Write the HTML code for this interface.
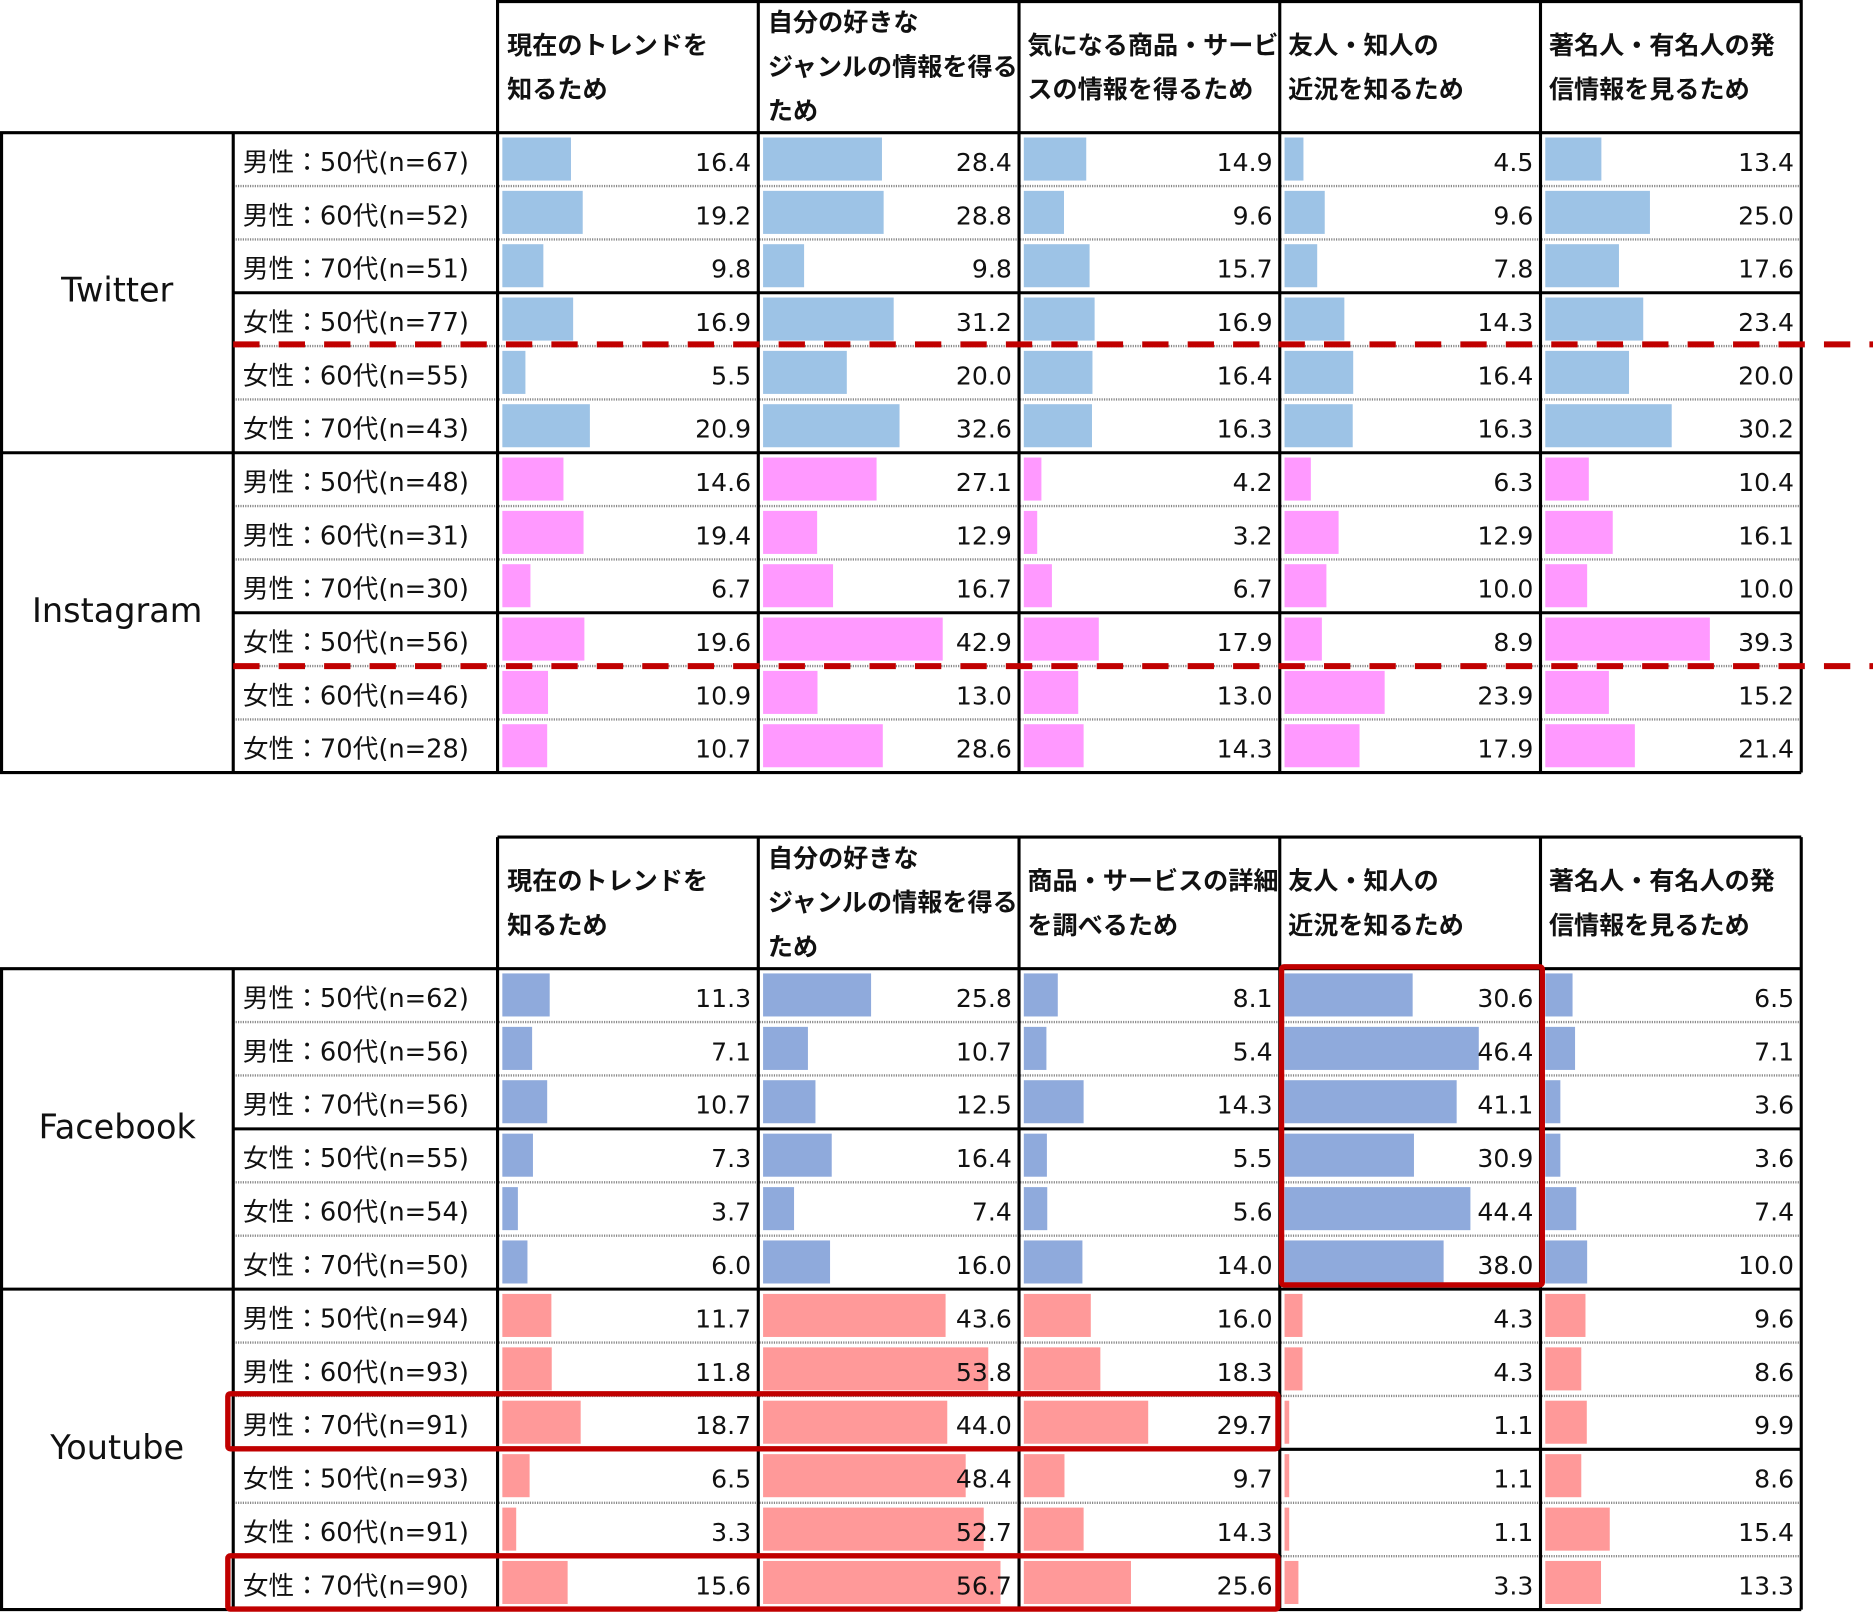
<!DOCTYPE html>
<html><head><meta charset="utf-8"><style>
html,body{margin:0;padding:0;background:#fff;}
svg{display:block;}
text{font-family:"DejaVu Sans","Noto Sans CJK JP",sans-serif;fill:#111;}
.n{font-size:21px;text-anchor:end;}
.l{font-size:21.5px;}
.h{font-size:21px;font-weight:bold;font-family:"Liberation Sans","Noto Sans CJK JP",sans-serif;}
.p{font-size:28px;text-anchor:middle;}
.thk{stroke:#000;stroke-width:2.6;}
.dot{stroke:#888;stroke-width:2;stroke-dasharray:1 1;}
.b1{fill:#9dc3e6}.b2{fill:#ff99ff}.b3{fill:#8faadc}.b4{fill:#ff9999}
</style></head><body>
<svg width="1873" height="1612" viewBox="0 0 1566 1348" preserveAspectRatio="none" xmlns="http://www.w3.org/2000/svg">
<rect width="1566" height="1348" fill="#fff"/>

<g class="h">
<text x="424" y="45">現在のトレンドを</text><text x="424" y="82">知るため</text>
<text x="642" y="26">自分の好きな</text><text x="642" y="63">ジャンルの情報を得る</text><text x="642" y="100">ため</text>
<text x="859" y="45">気になる商品・サービ</text><text x="859" y="82">スの情報を得るため</text>
<text x="1077" y="45">友人・知人の</text><text x="1077" y="82">近況を知るため</text>
<text x="1295" y="45">著名人・有名人の発</text><text x="1295" y="82">信情報を見るため</text>
</g>
<text class="p" x="98" y="252">Twitter</text>
<text class="p" x="98" y="520">Instagram</text>

<g transform="translate(0,111)">
<rect class="b1" x="420" y="4" width="57.4" height="36"/><rect class="b1" x="638" y="4" width="99.4" height="36"/><rect class="b1" x="856" y="4" width="52.2" height="36"/><rect class="b1" x="1074" y="4" width="15.8" height="36"/><rect class="b1" x="1292" y="4" width="46.9" height="36"/>
<text class="l" x="203" y="32">男性：50代(n=67)</text><text class="n" x="628" y="32">16.4</text><text class="n" x="846" y="32">28.4</text><text class="n" x="1064" y="32">14.9</text><text class="n" x="1282" y="32">4.5</text><text class="n" x="1500" y="32">13.4</text></g>
<g transform="translate(0,155.6)">
<rect class="b1" x="420" y="4" width="67.2" height="36"/><rect class="b1" x="638" y="4" width="100.8" height="36"/><rect class="b1" x="856" y="4" width="33.6" height="36"/><rect class="b1" x="1074" y="4" width="33.6" height="36"/><rect class="b1" x="1292" y="4" width="87.5" height="36"/>
<text class="l" x="203" y="32">男性：60代(n=52)</text><text class="n" x="628" y="32">19.2</text><text class="n" x="846" y="32">28.8</text><text class="n" x="1064" y="32">9.6</text><text class="n" x="1282" y="32">9.6</text><text class="n" x="1500" y="32">25.0</text></g>
<g transform="translate(0,200.2)">
<rect class="b1" x="420" y="4" width="34.3" height="36"/><rect class="b1" x="638" y="4" width="34.3" height="36"/><rect class="b1" x="856" y="4" width="55" height="36"/><rect class="b1" x="1074" y="4" width="27.3" height="36"/><rect class="b1" x="1292" y="4" width="61.6" height="36"/>
<text class="l" x="203" y="32">男性：70代(n=51)</text><text class="n" x="628" y="32">9.8</text><text class="n" x="846" y="32">9.8</text><text class="n" x="1064" y="32">15.7</text><text class="n" x="1282" y="32">7.8</text><text class="n" x="1500" y="32">17.6</text></g>
<g transform="translate(0,244.8)">
<rect class="b1" x="420" y="4" width="59.2" height="36"/><rect class="b1" x="638" y="4" width="109.2" height="36"/><rect class="b1" x="856" y="4" width="59.2" height="36"/><rect class="b1" x="1074" y="4" width="50" height="36"/><rect class="b1" x="1292" y="4" width="81.9" height="36"/>
<text class="l" x="203" y="32">女性：50代(n=77)</text><text class="n" x="628" y="32">16.9</text><text class="n" x="846" y="32">31.2</text><text class="n" x="1064" y="32">16.9</text><text class="n" x="1282" y="32">14.3</text><text class="n" x="1500" y="32">23.4</text></g>
<g transform="translate(0,289.4)">
<rect class="b1" x="420" y="4" width="19.3" height="36"/><rect class="b1" x="638" y="4" width="70" height="36"/><rect class="b1" x="856" y="4" width="57.4" height="36"/><rect class="b1" x="1074" y="4" width="57.4" height="36"/><rect class="b1" x="1292" y="4" width="70" height="36"/>
<text class="l" x="203" y="32">女性：60代(n=55)</text><text class="n" x="628" y="32">5.5</text><text class="n" x="846" y="32">20.0</text><text class="n" x="1064" y="32">16.4</text><text class="n" x="1282" y="32">16.4</text><text class="n" x="1500" y="32">20.0</text></g>
<g transform="translate(0,334)">
<rect class="b1" x="420" y="4" width="73.2" height="36"/><rect class="b1" x="638" y="4" width="114.1" height="36"/><rect class="b1" x="856" y="4" width="57" height="36"/><rect class="b1" x="1074" y="4" width="57" height="36"/><rect class="b1" x="1292" y="4" width="105.7" height="36"/>
<text class="l" x="203" y="32">女性：70代(n=43)</text><text class="n" x="628" y="32">20.9</text><text class="n" x="846" y="32">32.6</text><text class="n" x="1064" y="32">16.3</text><text class="n" x="1282" y="32">16.3</text><text class="n" x="1500" y="32">30.2</text></g>
<g transform="translate(0,378.6)">
<rect class="b2" x="420" y="4" width="51.1" height="36"/><rect class="b2" x="638" y="4" width="94.9" height="36"/><rect class="b2" x="856" y="4" width="14.7" height="36"/><rect class="b2" x="1074" y="4" width="22" height="36"/><rect class="b2" x="1292" y="4" width="36.4" height="36"/>
<text class="l" x="203" y="32">男性：50代(n=48)</text><text class="n" x="628" y="32">14.6</text><text class="n" x="846" y="32">27.1</text><text class="n" x="1064" y="32">4.2</text><text class="n" x="1282" y="32">6.3</text><text class="n" x="1500" y="32">10.4</text></g>
<g transform="translate(0,423.2)">
<rect class="b2" x="420" y="4" width="67.9" height="36"/><rect class="b2" x="638" y="4" width="45.2" height="36"/><rect class="b2" x="856" y="4" width="11.2" height="36"/><rect class="b2" x="1074" y="4" width="45.2" height="36"/><rect class="b2" x="1292" y="4" width="56.4" height="36"/>
<text class="l" x="203" y="32">男性：60代(n=31)</text><text class="n" x="628" y="32">19.4</text><text class="n" x="846" y="32">12.9</text><text class="n" x="1064" y="32">3.2</text><text class="n" x="1282" y="32">12.9</text><text class="n" x="1500" y="32">16.1</text></g>
<g transform="translate(0,467.8)">
<rect class="b2" x="420" y="4" width="23.5" height="36"/><rect class="b2" x="638" y="4" width="58.5" height="36"/><rect class="b2" x="856" y="4" width="23.5" height="36"/><rect class="b2" x="1074" y="4" width="35" height="36"/><rect class="b2" x="1292" y="4" width="35" height="36"/>
<text class="l" x="203" y="32">男性：70代(n=30)</text><text class="n" x="628" y="32">6.7</text><text class="n" x="846" y="32">16.7</text><text class="n" x="1064" y="32">6.7</text><text class="n" x="1282" y="32">10.0</text><text class="n" x="1500" y="32">10.0</text></g>
<g transform="translate(0,512.4)">
<rect class="b2" x="420" y="4" width="68.6" height="36"/><rect class="b2" x="638" y="4" width="150.2" height="36"/><rect class="b2" x="856" y="4" width="62.7" height="36"/><rect class="b2" x="1074" y="4" width="31.2" height="36"/><rect class="b2" x="1292" y="4" width="137.6" height="36"/>
<text class="l" x="203" y="32">女性：50代(n=56)</text><text class="n" x="628" y="32">19.6</text><text class="n" x="846" y="32">42.9</text><text class="n" x="1064" y="32">17.9</text><text class="n" x="1282" y="32">8.9</text><text class="n" x="1500" y="32">39.3</text></g>
<g transform="translate(0,557)">
<rect class="b2" x="420" y="4" width="38.2" height="36"/><rect class="b2" x="638" y="4" width="45.5" height="36"/><rect class="b2" x="856" y="4" width="45.5" height="36"/><rect class="b2" x="1074" y="4" width="83.7" height="36"/><rect class="b2" x="1292" y="4" width="53.2" height="36"/>
<text class="l" x="203" y="32">女性：60代(n=46)</text><text class="n" x="628" y="32">10.9</text><text class="n" x="846" y="32">13.0</text><text class="n" x="1064" y="32">13.0</text><text class="n" x="1282" y="32">23.9</text><text class="n" x="1500" y="32">15.2</text></g>
<g transform="translate(0,601.6)">
<rect class="b2" x="420" y="4" width="37.5" height="36"/><rect class="b2" x="638" y="4" width="100.1" height="36"/><rect class="b2" x="856" y="4" width="50" height="36"/><rect class="b2" x="1074" y="4" width="62.7" height="36"/><rect class="b2" x="1292" y="4" width="74.9" height="36"/>
<text class="l" x="203" y="32">女性：70代(n=28)</text><text class="n" x="628" y="32">10.7</text><text class="n" x="846" y="32">28.6</text><text class="n" x="1064" y="32">14.3</text><text class="n" x="1282" y="32">17.9</text><text class="n" x="1500" y="32">21.4</text></g>

<g class="dot">
<line x1="195" y1="155.6" x2="1506" y2="155.6"/><line x1="195" y1="200.2" x2="1506" y2="200.2"/>
<line x1="195" y1="289.4" x2="1506" y2="289.4"/><line x1="195" y1="334" x2="1506" y2="334"/>
<line x1="195" y1="423.2" x2="1506" y2="423.2"/><line x1="195" y1="467.8" x2="1506" y2="467.8"/>
<line x1="195" y1="557" x2="1506" y2="557"/><line x1="195" y1="601.6" x2="1506" y2="601.6"/>
</g>
<g class="thk">
<line x1="416" y1="1.3" x2="1506" y2="1.3"/>
<line x1="0" y1="111" x2="1506" y2="111"/>
<line x1="195" y1="244.8" x2="1506" y2="244.8"/>
<line x1="0" y1="378.6" x2="1506" y2="378.6"/>
<line x1="195" y1="512.4" x2="1506" y2="512.4"/>
<line x1="0" y1="646" x2="1506" y2="646"/>
<line x1="1.3" y1="111" x2="1.3" y2="646"/>
<line x1="195" y1="111" x2="195" y2="646"/>
<line x1="416" y1="0" x2="416" y2="646"/><line x1="634" y1="0" x2="634" y2="646"/><line x1="852" y1="0" x2="852" y2="646"/><line x1="1070" y1="0" x2="1070" y2="646"/><line x1="1288" y1="0" x2="1288" y2="646"/><line x1="1506" y1="0" x2="1506" y2="646"/>
</g>
<g stroke="#c00000" stroke-width="5" stroke-dasharray="22 16">
<line x1="195" y1="288" x2="1566" y2="288"/>
<line x1="195" y1="557" x2="1566" y2="557"/>
</g>

<g class="h">
<text x="424" y="744">現在のトレンドを</text><text x="424" y="781">知るため</text>
<text x="642" y="725">自分の好きな</text><text x="642" y="762">ジャンルの情報を得る</text><text x="642" y="799">ため</text>
<text x="859" y="744">商品・サービスの詳細</text><text x="859" y="781">を調べるため</text>
<text x="1077" y="744">友人・知人の</text><text x="1077" y="781">近況を知るため</text>
<text x="1295" y="744">著名人・有名人の発</text><text x="1295" y="781">信情報を見るため</text>
</g>
<text class="p" x="98" y="952">Facebook</text>
<text class="p" x="98" y="1220">Youtube</text>

<g transform="translate(0,810)">
<rect class="b3" x="420" y="4" width="39.6" height="36"/><rect class="b3" x="638" y="4" width="90.3" height="36"/><rect class="b3" x="856" y="4" width="28.4" height="36"/><rect class="b3" x="1074" y="4" width="107.1" height="36"/><rect class="b3" x="1292" y="4" width="22.8" height="36"/>
<text class="l" x="203" y="32">男性：50代(n=62)</text><text class="n" x="628" y="32">11.3</text><text class="n" x="846" y="32">25.8</text><text class="n" x="1064" y="32">8.1</text><text class="n" x="1282" y="32">30.6</text><text class="n" x="1500" y="32">6.5</text></g>
<g transform="translate(0,854.7)">
<rect class="b3" x="420" y="4" width="24.9" height="36"/><rect class="b3" x="638" y="4" width="37.5" height="36"/><rect class="b3" x="856" y="4" width="18.9" height="36"/><rect class="b3" x="1074" y="4" width="162.4" height="36"/><rect class="b3" x="1292" y="4" width="24.9" height="36"/>
<text class="l" x="203" y="32">男性：60代(n=56)</text><text class="n" x="628" y="32">7.1</text><text class="n" x="846" y="32">10.7</text><text class="n" x="1064" y="32">5.4</text><text class="n" x="1282" y="32">46.4</text><text class="n" x="1500" y="32">7.1</text></g>
<g transform="translate(0,899.3)">
<rect class="b3" x="420" y="4" width="37.5" height="36"/><rect class="b3" x="638" y="4" width="43.8" height="36"/><rect class="b3" x="856" y="4" width="50" height="36"/><rect class="b3" x="1074" y="4" width="143.9" height="36"/><rect class="b3" x="1292" y="4" width="12.6" height="36"/>
<text class="l" x="203" y="32">男性：70代(n=56)</text><text class="n" x="628" y="32">10.7</text><text class="n" x="846" y="32">12.5</text><text class="n" x="1064" y="32">14.3</text><text class="n" x="1282" y="32">41.1</text><text class="n" x="1500" y="32">3.6</text></g>
<g transform="translate(0,944)">
<rect class="b3" x="420" y="4" width="25.6" height="36"/><rect class="b3" x="638" y="4" width="57.4" height="36"/><rect class="b3" x="856" y="4" width="19.3" height="36"/><rect class="b3" x="1074" y="4" width="108.2" height="36"/><rect class="b3" x="1292" y="4" width="12.6" height="36"/>
<text class="l" x="203" y="32">女性：50代(n=55)</text><text class="n" x="628" y="32">7.3</text><text class="n" x="846" y="32">16.4</text><text class="n" x="1064" y="32">5.5</text><text class="n" x="1282" y="32">30.9</text><text class="n" x="1500" y="32">3.6</text></g>
<g transform="translate(0,988.7)">
<rect class="b3" x="420" y="4" width="13" height="36"/><rect class="b3" x="638" y="4" width="25.9" height="36"/><rect class="b3" x="856" y="4" width="19.6" height="36"/><rect class="b3" x="1074" y="4" width="155.4" height="36"/><rect class="b3" x="1292" y="4" width="25.9" height="36"/>
<text class="l" x="203" y="32">女性：60代(n=54)</text><text class="n" x="628" y="32">3.7</text><text class="n" x="846" y="32">7.4</text><text class="n" x="1064" y="32">5.6</text><text class="n" x="1282" y="32">44.4</text><text class="n" x="1500" y="32">7.4</text></g>
<g transform="translate(0,1033.3)">
<rect class="b3" x="420" y="4" width="21" height="36"/><rect class="b3" x="638" y="4" width="56" height="36"/><rect class="b3" x="856" y="4" width="49" height="36"/><rect class="b3" x="1074" y="4" width="133" height="36"/><rect class="b3" x="1292" y="4" width="35" height="36"/>
<text class="l" x="203" y="32">女性：70代(n=50)</text><text class="n" x="628" y="32">6.0</text><text class="n" x="846" y="32">16.0</text><text class="n" x="1064" y="32">14.0</text><text class="n" x="1282" y="32">38.0</text><text class="n" x="1500" y="32">10.0</text></g>
<g transform="translate(0,1078)">
<rect class="b4" x="420" y="4" width="41" height="36"/><rect class="b4" x="638" y="4" width="152.6" height="36"/><rect class="b4" x="856" y="4" width="56" height="36"/><rect class="b4" x="1074" y="4" width="15" height="36"/><rect class="b4" x="1292" y="4" width="33.6" height="36"/>
<text class="l" x="203" y="32">男性：50代(n=94)</text><text class="n" x="628" y="32">11.7</text><text class="n" x="846" y="32">43.6</text><text class="n" x="1064" y="32">16.0</text><text class="n" x="1282" y="32">4.3</text><text class="n" x="1500" y="32">9.6</text></g>
<g transform="translate(0,1122.7)">
<rect class="b4" x="420" y="4" width="41.3" height="36"/><rect class="b4" x="638" y="4" width="188.3" height="36"/><rect class="b4" x="856" y="4" width="64" height="36"/><rect class="b4" x="1074" y="4" width="15" height="36"/><rect class="b4" x="1292" y="4" width="30.1" height="36"/>
<text class="l" x="203" y="32">男性：60代(n=93)</text><text class="n" x="628" y="32">11.8</text><text class="n" x="846" y="32">53.8</text><text class="n" x="1064" y="32">18.3</text><text class="n" x="1282" y="32">4.3</text><text class="n" x="1500" y="32">8.6</text></g>
<g transform="translate(0,1167.3)">
<rect class="b4" x="420" y="4" width="65.5" height="36"/><rect class="b4" x="638" y="4" width="154" height="36"/><rect class="b4" x="856" y="4" width="104" height="36"/><rect class="b4" x="1074" y="4" width="3.9" height="36"/><rect class="b4" x="1292" y="4" width="34.7" height="36"/>
<text class="l" x="203" y="32">男性：70代(n=91)</text><text class="n" x="628" y="32">18.7</text><text class="n" x="846" y="32">44.0</text><text class="n" x="1064" y="32">29.7</text><text class="n" x="1282" y="32">1.1</text><text class="n" x="1500" y="32">9.9</text></g>
<g transform="translate(0,1212)">
<rect class="b4" x="420" y="4" width="22.8" height="36"/><rect class="b4" x="638" y="4" width="169.4" height="36"/><rect class="b4" x="856" y="4" width="34" height="36"/><rect class="b4" x="1074" y="4" width="3.9" height="36"/><rect class="b4" x="1292" y="4" width="30.1" height="36"/>
<text class="l" x="203" y="32">女性：50代(n=93)</text><text class="n" x="628" y="32">6.5</text><text class="n" x="846" y="32">48.4</text><text class="n" x="1064" y="32">9.7</text><text class="n" x="1282" y="32">1.1</text><text class="n" x="1500" y="32">8.6</text></g>
<g transform="translate(0,1256.7)">
<rect class="b4" x="420" y="4" width="11.6" height="36"/><rect class="b4" x="638" y="4" width="184.5" height="36"/><rect class="b4" x="856" y="4" width="50" height="36"/><rect class="b4" x="1074" y="4" width="3.9" height="36"/><rect class="b4" x="1292" y="4" width="53.9" height="36"/>
<text class="l" x="203" y="32">女性：60代(n=91)</text><text class="n" x="628" y="32">3.3</text><text class="n" x="846" y="32">52.7</text><text class="n" x="1064" y="32">14.3</text><text class="n" x="1282" y="32">1.1</text><text class="n" x="1500" y="32">15.4</text></g>
<g transform="translate(0,1301.3)">
<rect class="b4" x="420" y="4" width="54.6" height="36"/><rect class="b4" x="638" y="4" width="198.5" height="36"/><rect class="b4" x="856" y="4" width="89.6" height="36"/><rect class="b4" x="1074" y="4" width="11.6" height="36"/><rect class="b4" x="1292" y="4" width="46.6" height="36"/>
<text class="l" x="203" y="32">女性：70代(n=90)</text><text class="n" x="628" y="32">15.6</text><text class="n" x="846" y="32">56.7</text><text class="n" x="1064" y="32">25.6</text><text class="n" x="1282" y="32">3.3</text><text class="n" x="1500" y="32">13.3</text></g>

<g class="dot">
<line x1="195" y1="854.7" x2="1506" y2="854.7"/><line x1="195" y1="899.3" x2="1506" y2="899.3"/>
<line x1="195" y1="988.7" x2="1506" y2="988.7"/><line x1="195" y1="1033.3" x2="1506" y2="1033.3"/>
<line x1="195" y1="1122.7" x2="1506" y2="1122.7"/><line x1="195" y1="1167.3" x2="1506" y2="1167.3"/>
<line x1="195" y1="1256.7" x2="1506" y2="1256.7"/><line x1="195" y1="1301.3" x2="1506" y2="1301.3"/>
</g>
<g class="thk">
<line x1="416" y1="700" x2="1506" y2="700"/>
<line x1="0" y1="810" x2="1506" y2="810"/>
<line x1="195" y1="944" x2="1506" y2="944"/>
<line x1="0" y1="1078" x2="1506" y2="1078"/>
<line x1="195" y1="1212" x2="1506" y2="1212"/>
<line x1="0" y1="1346" x2="1506" y2="1346"/>
<line x1="1.3" y1="810" x2="1.3" y2="1346"/>
<line x1="195" y1="810" x2="195" y2="1346"/>
<line x1="416" y1="700" x2="416" y2="1346"/><line x1="634" y1="700" x2="634" y2="1346"/><line x1="852" y1="700" x2="852" y2="1346"/><line x1="1070" y1="700" x2="1070" y2="1346"/><line x1="1288" y1="700" x2="1288" y2="1346"/><line x1="1506" y1="700" x2="1506" y2="1346"/>
</g>
<g fill="none" stroke="#c00000" stroke-width="4.5">
<rect x="1071.5" y="808.5" width="218" height="266" rx="2"/>
<rect x="190.5" y="1165.5" width="878" height="46" rx="2"/>
<rect x="190.5" y="1301" width="878" height="44.5" rx="2"/>
</g>
</svg>
</body></html>
